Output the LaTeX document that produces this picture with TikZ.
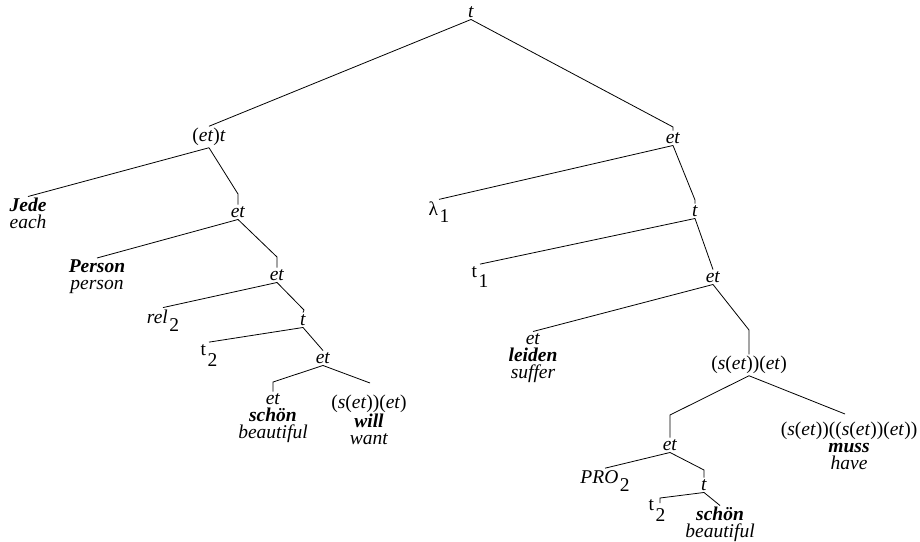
\documentclass[tikz,border=0pt]{standalone}
\usepackage{fontspec}
\setmainfont{Liberation Serif}
\begin{document}
\begin{tikzpicture}[x=1pt,y=-1pt,
  every node/.style={font=\fontsize{19.5}{17}\selectfont, inner sep=1.5pt},
  leaf/.style={anchor=north, align=center},
  sub/.style={anchor=base},
  every path/.style={line width=0.8pt}]
\useasboundingbox (0,0) rectangle (920,541);
% left subtree
\node (root) at (471,12) {\textit{t}};
\node (a) at (209,137) {(\textit{et})\textit{t}};
\node[leaf] (jede) at (28,196.5) {\textbf{\textit{Jede}}\\\textit{each}};
\node (b) at (238,212) {\textit{et}};
\node[leaf] (person) at (97,258) {\textbf{\textit{Person}}\\\textit{person}};
\node (c) at (277,275) {\textit{et}};
\node[sub] (rel) at (163,323) {\textit{rel}\kern1.5pt\raisebox{-8pt}{2}};
\node (d) at (303,320) {\textit{t}};
\node[sub] (tz) at (209,355) {t\kern1.5pt\raisebox{-11pt}{2}};
\node (e) at (323,358) {\textit{et}};
\node[leaf] (schoen) at (273,391.5) {\textit{et}\\\textbf{\textit{schön}}\\\textit{beautiful}};
\node[leaf] (will) at (369,393.5) {(\textit{s}(\textit{et}))(\textit{et})\\\textbf{\textit{will}}\\\textit{want}};
% right subtree
\node (f) at (673,138) {\textit{et}};
\node[sub] (lam) at (439,215) {λ\kern1.5pt\raisebox{-7pt}{1}};
\node (g) at (695,211) {\textit{t}};
\node[sub] (tone) at (480,277) {t\kern1.5pt\raisebox{-10pt}{1}};
\node (h) at (713,277) {\textit{et}};
\node[leaf] (leiden) at (533,331.5) {\textit{et}\\\textbf{\textit{leiden}}\\\textit{suffer}};
\node (i) at (749,365) {(\textit{s}(\textit{et}))(\textit{et})};
\node[leaf] (muss) at (849,420.5) {(\textit{s}(\textit{et}))((\textit{s}(\textit{et}))(\textit{et}))\\\textbf{\textit{muss}}\\\textit{have}};
\node (j) at (670,445) {\textit{et}};
\node[sub] (pro) at (605,483) {\textit{PRO}\kern1.5pt\raisebox{-8pt}{2}};
\node (k) at (704,485) {\textit{t}};
\node[sub] (ttwo) at (657,510) {t\kern1.5pt\raisebox{-11pt}{2}};
\node[leaf] (schoen2) at (720,505.5) {\textbf{\textit{schön}}\\\textit{beautiful}};
% bend points
\coordinate (rb) at (673,127);
\coordinate (ab) at (238,194);
\coordinate (bb) at (277,257);
\coordinate (cb) at (304,310);
\coordinate (eb) at (273,382);
\coordinate (willend) at (370,383);
\coordinate (fb) at (695,200);
\coordinate (hb) at (749,330);
\coordinate (ib) at (670,415);
\coordinate (mussend) at (845,414);
\coordinate (jb) at (704,470);
\coordinate (kb) at (660,498);
\coordinate (ttwoend) at (660,503);
% connectors
\draw (root.south) -- (a.north);
\draw (root.south) -- (rb) -- (f.north);
\draw (a.south) -- (jede.north);
\draw (a.south) -- (ab) -- (b.north);
\draw (b.south) -- (person.north);
\draw (b.south) -- (bb) -- (c.north);
\draw (c.south) -- (rel.north);
\draw (c.south) -- (cb) -- (d.north);
\draw (d.south) -- (tz.north);
\draw (d.south) -- (e.north);
\draw (e.south) -- (eb) -- (schoen.north);
\draw (e.south) -- (willend);
\draw (f.south) -- (lam.north);
\draw (f.south) -- (fb) -- (g.north);
\draw (g.south) -- (tone.north);
\draw (g.south) -- (h.north);
\draw (h.south) -- (leiden.north);
\draw (h.south) -- (hb) -- (i.north);
\draw (i.south) -- (ib) -- (j.north);
\draw (i.south) -- (mussend);
\draw (j.south) -- (pro.north);
\draw (j.south) -- (jb) -- (k.north);
\draw (k.south) -- (kb) -- (ttwoend);
\draw (k.south) -- (schoen2.north);
\end{tikzpicture}
\end{document}
